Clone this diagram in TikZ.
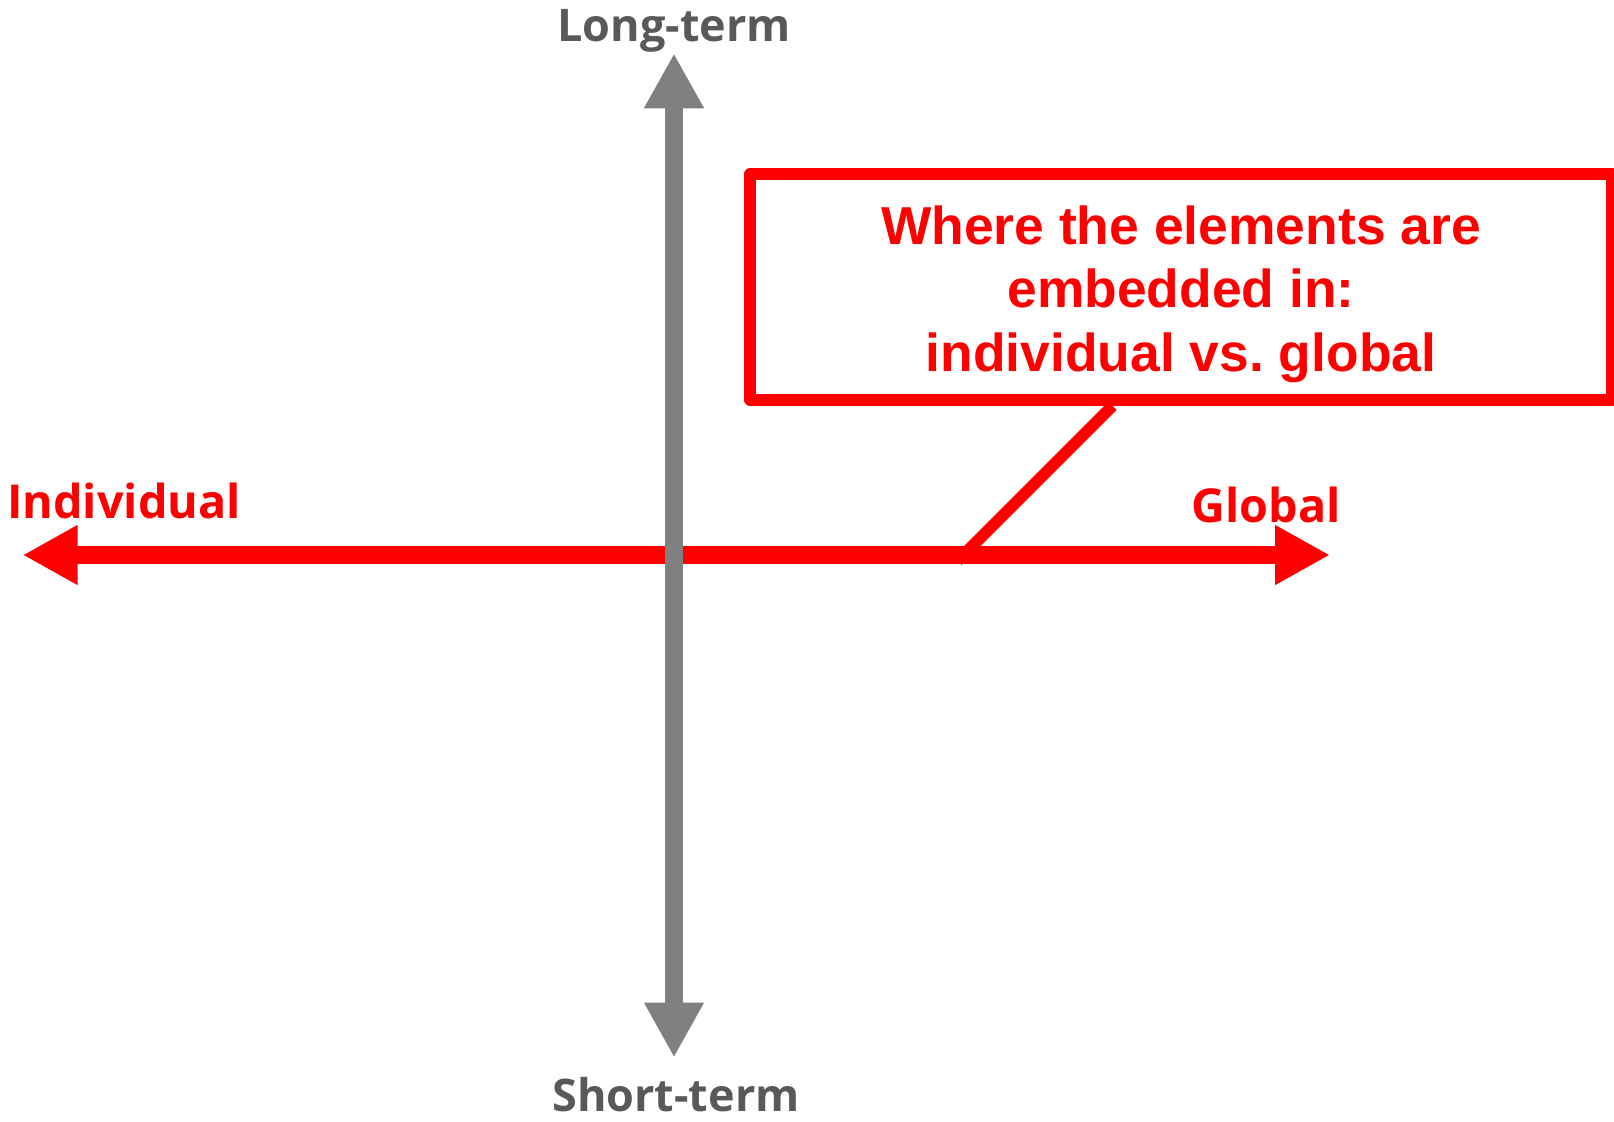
\documentclass[tikz,border=0pt]{standalone}
\usepackage{fontspec}
\usepackage{tikz}
\usetikzlibrary{arrows.meta,calc,positioning}
\newfontfamily\axisfont{Open Sans}
\newfontfamily\calloutfont{Liberation Sans}
\definecolor{axisgray}{HTML}{808080}
\definecolor{labelgray}{HTML}{595959}
\definecolor{scalered}{HTML}{FF0000}

\begin{document}
\begin{tikzpicture}[
    x=0.02cm,y=-0.02cm,
    axis/.style={line width=0.36cm,
                 {Triangle[length=1.1cm,width=1.12cm]}-{Triangle[length=1.1cm,width=1.12cm]}},
    glabel/.style={inner sep=0pt,anchor=base,text=labelgray,
                   font=\axisfont\bfseries\fontsize{25.6pt}{30pt}\selectfont},
    rlabel/.style={glabel,text=scalered,
                   font=\axisfont\bfseries\fontsize{26.6pt}{32pt}\selectfont},
    callout/.style={draw=scalered,line width=0.234cm,line join=round,
                    minimum width=17.24cm,minimum height=4.52cm,inner sep=0pt},
    callouttext/.style={inner sep=0pt,align=center,text=scalered,
                        font=\calloutfont\bfseries\fontsize{30.4pt}{36.1pt}\selectfont}
  ]
    \useasboundingbox (0,0) rectangle (1614,1122);
    % axis end points
    \coordinate (ltip) at (22.7,555);
    \coordinate (rtip) at (1330,555);
    \coordinate (ttip) at (674,53.3);
    \coordinate (btip) at (674,1057.5);
    % labels
    \node[glabel] (long) at (674,41.7) {Long-term};
    \node[glabel] (short) at (676,1111) {Short-term};
    \node[rlabel] (indiv) at (124,518.5) {Individual};
    \node[rlabel] (glob) at (1266,522.7) {Global};
    % callout
    \node[callout] (box) at (1181,287) {};
    \node[callouttext] (boxtext) at (1181,294)
      {Where the elements are\\embedded in:\\individual vs.\ global};
    \coordinate (tailtop) at ($(box.south)+(-68.5,0)$);
    \coordinate (tailfoot) at ($(tailtop)+(-155,155)$);
    \draw[axis,scalered] (ltip) -- (rtip);
    \draw[scalered,line width=0.234cm] (tailfoot) -- (tailtop);
    \draw[axis,axisgray] (ttip) -- (btip);
  \end{tikzpicture}
\end{document}
